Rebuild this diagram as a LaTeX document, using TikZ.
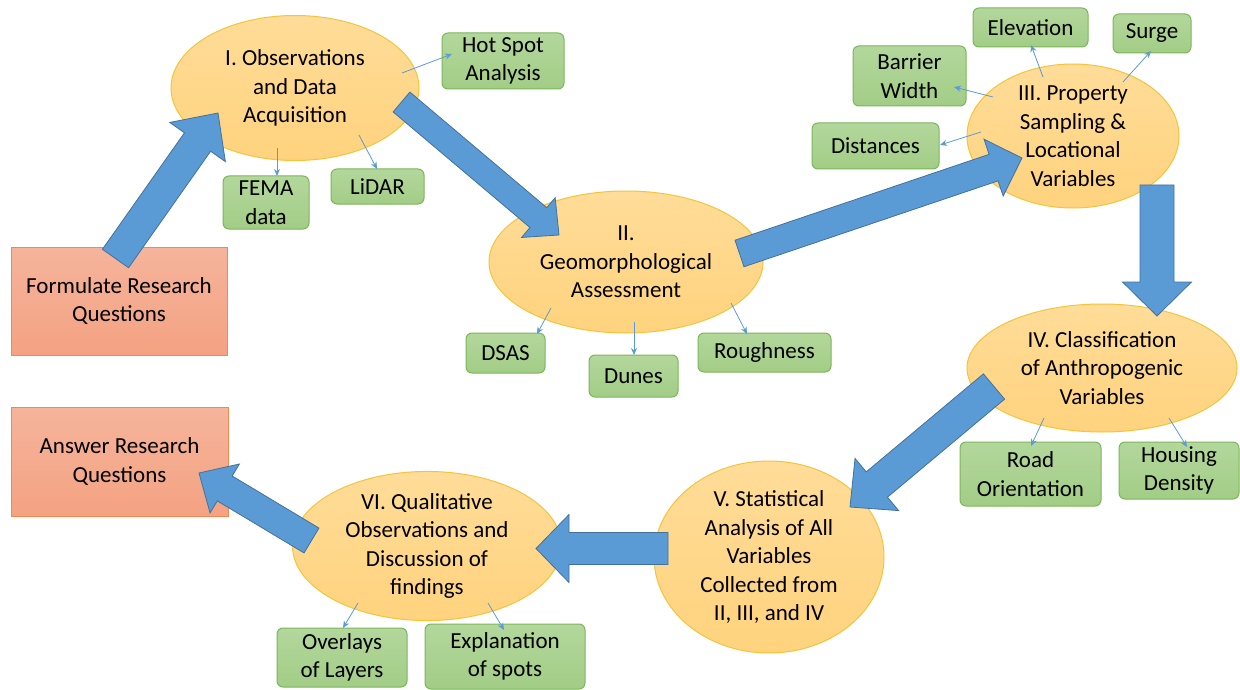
\documentclass[tikz,border=0pt]{standalone}
\usepackage{fontspec}
\setmainfont{Carlito}
\usetikzlibrary{shapes.geometric,calc,arrows.meta}
\definecolor{elltop}{HTML}{FFDC98}
\definecolor{ellbot}{HTML}{FFD37E}
\definecolor{elldraw}{HTML}{F7C33A}
\definecolor{grntop}{HTML}{B3D79C}
\definecolor{grnbot}{HTML}{A2CD86}
\definecolor{grndraw}{HTML}{7DB65A}
\definecolor{redtop}{HTML}{F5B49B}
\definecolor{redbot}{HTML}{F4A282}
\definecolor{reddraw}{HTML}{F08A55}
\definecolor{bluefill}{HTML}{5B9BD5}
\definecolor{bluedraw}{HTML}{41719C}
\newcommand{\barrow}[5]{%
  \coordinate (bT) at (#1); \coordinate (bP) at (#2);
  \coordinate (bH) at ($(bP)!#5!(bT)$);
  \draw[bigarrow] ($(bT)!#3!90:(bP)$) -- ($(bH)!#3!90:(bP)$) -- ($(bH)!#4!90:(bP)$) -- (bP)
    -- ($(bH)!#4!-90:(bP)$) -- ($(bH)!#3!-90:(bP)$) -- ($(bT)!#3!-90:(bP)$) -- cycle;}
\begin{document}
\begin{tikzpicture}[x=1pt,y=-1pt,
  txt/.style={font=\fontsize{23}{28.5}\selectfont, align=center, text=black},
  ell/.style={txt, ellipse, draw=elldraw, line width=1pt, top color=elltop, bottom color=ellbot, inner sep=0pt},
  gbox/.style={txt, rectangle, rounded corners=6pt, draw=grndraw, line width=1pt, top color=grntop, bottom color=grnbot, inner sep=1pt},
  rbox/.style={txt, rectangle, draw=reddraw, line width=1pt, top color=redtop, bottom color=redbot, inner sep=1pt},
  thinarrow/.style={draw=bluefill, line width=0.8pt, -{Stealth[length=7pt,width=6pt]}},
  bigarrow/.style={fill=bluefill, draw=bluedraw, line width=0.8pt, line join=miter}]
\useasboundingbox (0,0) rectangle (1240,690);
\fill[white] (0,0) rectangle (1240,690);

% ellipses
\node[ell, minimum width=248pt, minimum height=145pt] (e1) at (295,88) {I. Observations\\and Data\\Acquisition};
\node[ell, minimum width=274pt, minimum height=142pt] (e2) at (626,262) {II.\\Geomorphological\\Assessment};
\node[ell, minimum width=212pt, minimum height=144pt] (e3) at (1073,136) {III. Property\\Sampling \&\\Locational\\Variables};
\node[ell, minimum width=270pt, minimum height=128pt] (e4) at (1102,368) {IV. Classification\\of Anthropogenic\\Variables};
\node[ell, minimum width=230pt, minimum height=192pt] (e5) at (769,557) {V. Statistical\\Analysis of All\\Variables\\Collected from\\II, III, and IV};
\node[ell, minimum width=269pt, minimum height=144pt] (e6) at (427,546) {VI. Qualitative\\Observations and\\Discussion of\\findings};

% red boxes
\node[rbox, minimum width=216pt, minimum height=108pt] (fq) at (119,301) {Formulate Research\\Questions};
\node[rbox, minimum width=217pt, minimum height=109pt] (aq) at (119.5,461.5) {Answer Research\\Questions};

% green boxes
\node[gbox, minimum width=122pt, minimum height=56pt] (hot) at (503,61) {Hot Spot\\Analysis};
\node[gbox, minimum width=86pt, minimum height=53pt] (fema) at (266,202.5) {FEMA\\data};
\node[gbox, minimum width=93pt, minimum height=35pt] (lidar) at (377.5,186.5) {LiDAR};
\node[gbox, minimum width=115pt, minimum height=39pt] (elev) at (1030.5,27.5) {Elevation};
\node[gbox, minimum width=78pt, minimum height=39pt] (surge) at (1152,33.5) {Surge};
\node[gbox, minimum width=113pt, minimum height=60pt] (barrier) at (909.5,76) {Barrier\\Width};
\node[gbox, minimum width=127pt, minimum height=46pt] (dist) at (875.5,146) {Distances};
\node[gbox, minimum width=79pt, minimum height=40pt] (dsas) at (505.5,353) {DSAS};
\node[gbox, minimum width=89pt, minimum height=42pt] (dunes) at (633.5,376) {Dunes};
\node[gbox, minimum width=133pt, minimum height=39pt] (rough) at (764.5,352.5) {Roughness};
\node[gbox, minimum width=141pt, minimum height=64pt] (road) at (1030.5,474) {Road\\Orientation};
\node[gbox, minimum width=120pt, minimum height=57pt] (housing) at (1179,470.5) {Housing\\Density};
\node[gbox, minimum width=130pt, minimum height=59pt] (overlays) at (342,657.5) {Overlays\\of Layers};
\node[gbox, minimum width=160pt, minimum height=65pt] (expl) at (505,656.5) {Explanation\\of spots};

% thin arrows: start / end coordinates
\coordinate (s1) at (402,73);   \coordinate (t1) at (452,54);
\coordinate (s2) at (277,148);  \coordinate (t2) at (277,176);
\coordinate (s3) at (359,135);  \coordinate (t3) at (377,169);
\coordinate (s4) at (551,308);  \coordinate (t4) at (537,334);
\coordinate (s5) at (634,322);  \coordinate (t5) at (634,355);
\coordinate (s6) at (731,303);  \coordinate (t6) at (747,334);
\coordinate (s7) at (993,97);   \coordinate (t7) at (954,87);
\coordinate (s8) at (1043,77);  \coordinate (t8) at (1031,45);
\coordinate (s9) at (1123,82);  \coordinate (t9) at (1151,51);
\coordinate (s10) at (981,132); \coordinate (t10) at (940,145);
\coordinate (s11) at (1044,418); \coordinate (t11) at (1031,446);
\coordinate (s12) at (1169,418); \coordinate (t12) at (1187,447);
\coordinate (s13) at (358,603); \coordinate (t13) at (343,628);
\coordinate (s14) at (488,603); \coordinate (t14) at (504,630);
\foreach \i in {1,...,14} { \draw[thinarrow] (s\i) -- (t\i); }

% big block arrows: tail, tip, shaft half-width, head half-width, head length
\barrow{115.5,258.5}{218,113}{16pt}{34pt}{35.5pt}
\barrow{401.5,102}{559,235}{13pt}{26pt}{27pt}
\barrow{739.5,253.5}{1022,158}{14pt}{30pt}{30pt}
\barrow{1157,185}{1157,316}{17pt}{34.5pt}{34pt}
\barrow{994,386.5}{850,507}{16.5pt}{34pt}{35pt}
\barrow{668,548.5}{536,548.5}{16pt}{34pt}{33pt}
\barrow{311.5,540.5}{199,473}{14.5pt}{28.5pt}{30pt}
\end{tikzpicture}
\end{document}
